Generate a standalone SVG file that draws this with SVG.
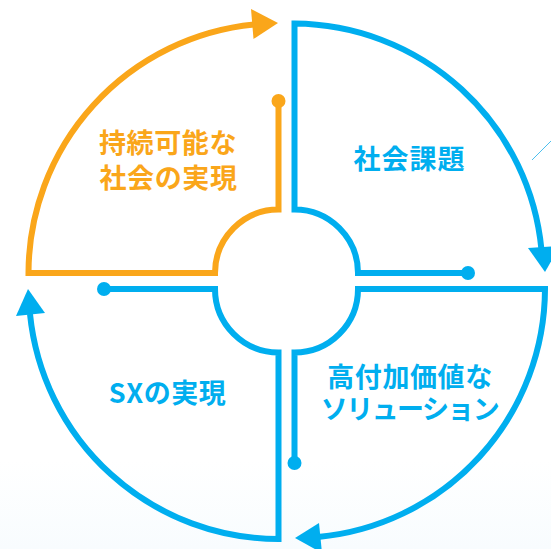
<svg xmlns="http://www.w3.org/2000/svg" width="551" height="549" viewBox="0 0 551 549">
<defs>
<linearGradient id="bg" x1="0" y1="0" x2="0" y2="1"><stop offset="0" stop-color="#fff"/><stop offset="1" stop-color="#f8fcfe"/></linearGradient>
</defs>
<style>
.o{fill:none;stroke:#faa61a;stroke-width:6}
.b{fill:none;stroke:#00aeef;stroke-width:6}
.of{fill:#faa61a}
.bf{fill:#00aeef}
text{font-family:"Noto Sans CJK JP","Noto Sans",sans-serif;font-weight:700;font-size:27px;text-anchor:middle;letter-spacing:0.6px}
</style>
<rect x="0" y="460" width="551" height="89" fill="url(#bg)"/>
<path d="M532 160L551 141" fill="none" stroke="#4dc0ee" stroke-width="1"/>
<g id="connectors"/>
<g id="node-sustainable">
<path class="o" d="M278.500 101V209.500A63.500 63.500 0 0 0 215 273H28.500A250 250 0 0 1 254 24.500"/>
<circle class="of" cx="278.500" cy="101" r="7"/>
<path class="of" d="M278 23L251 9L253.500 39Z"/>
<text class="of" x="168" y="153">持続可能な</text>
<text class="of" x="168.500" y="188">社会の実現</text>
</g>
<g id="node-issues">
<path class="b" d="M468 273H358A63.500 63.500 0 0 0 294.500 209.500V23.500A250 250 0 0 1 541.500 250"/>
<circle class="bf" cx="468" cy="273" r="7"/>
<path class="bf" d="M545 272L528 248L560 246Z"/>
<text class="bf" x="409.500" y="169" style="letter-spacing:1px">社会課題</text>
</g>
<g id="node-solution">
<path class="b" d="M294.500 463V352.500A63.500 63.500 0 0 0 358 289H545A250 250 0 0 1 318 537"/>
<circle class="bf" cx="294.500" cy="463" r="7"/>
<path class="bf" d="M295 538L319 523L322 553Z"/>
<text class="bf" x="410" y="387">高付加価値な</text>
<text class="bf" x="409.500" y="419" style="letter-spacing:-1.600px">ソリューション</text>
</g>
<g id="node-sx">
<path class="b" d="M104 289H215A63.500 63.500 0 0 0 278.500 352.500V539A250 250 0 0 1 30 314"/>
<circle class="bf" cx="104" cy="289" r="7"/>
<path class="bf" d="M28 289L16 316L45 313Z"/>
<text class="bf" x="167.500" y="403" style="letter-spacing:0.5px">SXの実現</text>
</g>
</svg>
